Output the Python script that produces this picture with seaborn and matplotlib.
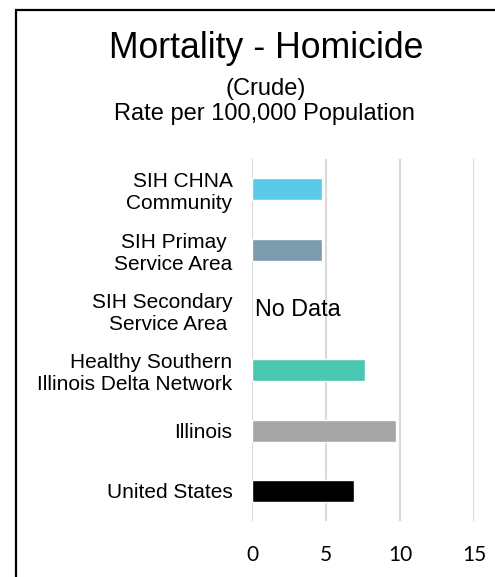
import numpy as np
import pandas as pd
import matplotlib
matplotlib.use("Agg")
import matplotlib.pyplot as plt
import seaborn as sns
from matplotlib.patches import Rectangle

# data
areas = ["SIH CHNA\nCommunity", "SIH Primay \nService Area", "SIH Secondary\nService Area ",
         "Healthy Southern\nIllinois Delta Network", "Illinois", "United States"]
rates = [4.7, 4.7, np.nan, 7.6, 9.7, 6.9]
bar_colors = ["#5BC9E8", "#7B9BAE", "#FFFFFF", "#4BC6B1", "#A6A6A6", "#000000"]
x_ticks = [0, 5, 10, 15]

df = pd.DataFrame({"area": areas, "rate": rates})

sns.set_style("white")
plt.rcParams["font.family"] = ["Liberation Sans", "DejaVu Sans"]
plt.rcParams["text.color"] = "black"
plt.rcParams["xtick.color"] = "black"
plt.rcParams["ytick.color"] = "black"

fig = plt.figure(figsize=(4.95, 5.77), dpi=100)
ax = fig.add_axes([0.509, 0.097, 0.449, 0.627])

sns.barplot(data=df, x="rate", y="area", hue="area", order=areas, hue_order=areas,
            palette=bar_colors, width=0.365, legend=False, ax=ax, saturation=1)

ax.set_xlim(0, 15)
ax.set_xticks(x_ticks)
ax.set_xticklabels([str(t) for t in x_ticks], family="Lato", fontsize=15)
ax.xaxis.grid(True, color="#D9D9D9", linewidth=1.5)
ax.set_axisbelow(True)
for s in ax.spines.values():
    s.set_visible(False)
ax.tick_params(axis="x", length=0, pad=17)
ax.tick_params(axis="y", length=0, pad=14, labelsize=15)
ax.set_xlabel("")
ax.set_ylabel("")

# no data note
ax.text(0.2, 2, "No Data", ha="left", va="center", fontsize=16.8)

# titles
fig.text(0.537, 1 - 48 / 577, "Mortality - Homicide", ha="center", va="center", fontsize=25.7)
fig.text(0.537, 1 - 89 / 577, "(Crude)", ha="center", va="center", fontsize=17)
fig.text(0.535, 1 - 114 / 577, "Rate per 100,000 Population", ha="center", va="center", fontsize=17)

# outer frame
fig.patches.append(Rectangle((16 / 495, -0.1), 1.2, 1.1 - 10 / 577, transform=fig.transFigure,
                             fill=False, edgecolor="black", linewidth=1.6))

fig.savefig("out.png", dpi=100)
